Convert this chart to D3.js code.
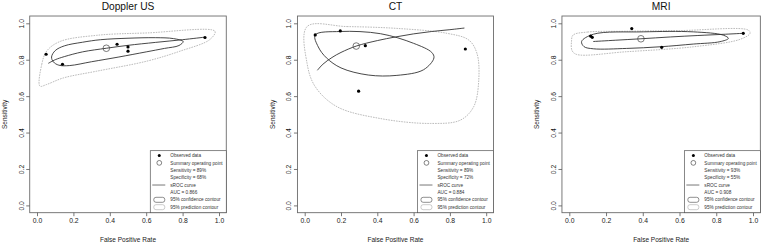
<!DOCTYPE html>
<html>
<head>
<meta charset="utf-8">
<script src="https://cdn.jsdelivr.net/npm/d3@7"></script>
<style>
  body { margin: 0; background: #fff; }
  svg { display: block; font-family: 'Liberation Sans', Arial, sans-serif; }
</style>
</head>
<body>
<div id="chart"></div>
<script>
// panel titles
const titles = ['Doppler US', 'CT', 'MRI']

// observed data points [fpr, sensitivity]
const observedDoppler = [[0.05, 0.83], [0.14, 0.775], [0.44, 0.885], [0.5, 0.87], [0.5, 0.847], [0.923, 0.922]]
const observedCT = [[0.058, 0.936], [0.196, 0.958], [0.334, 0.877], [0.885, 0.859], [0.297, 0.627]]
const observedMRI = [[0.116, 0.93], [0.125, 0.923], [0.34, 0.971], [0.503, 0.868], [0.947, 0.945]]

// summary operating points
const summaryPoints = [[0.381, 0.863], [0.284, 0.875], [0.39, 0.915]]

// sROC curves
const srocDoppler = [[0.062, 0.78], [0.1, 0.8], [0.15, 0.817], [0.25, 0.843], [0.381, 0.863], [0.5, 0.879], [0.65, 0.895], [0.8, 0.91], [0.923, 0.924]]
const srocCT = [[0.07, 0.742], [0.1, 0.775], [0.15, 0.812], [0.2, 0.84], [0.284, 0.875], [0.4, 0.905], [0.5, 0.925], [0.6, 0.942], [0.7, 0.955], [0.8, 0.965], [0.88, 0.974]]
const srocMRI = [[0.13, 0.9], [0.25, 0.907], [0.39, 0.915], [0.55, 0.925], [0.7, 0.933], [0.85, 0.94], [0.947, 0.945]]

// 95% confidence contours
const confDoppler = [[0.08, 0.815], [0.1, 0.85], [0.15, 0.876], [0.25, 0.896], [0.35, 0.91], [0.5, 0.918], [0.65, 0.921], [0.75, 0.916], [0.803, 0.9], [0.78, 0.878], [0.7, 0.862], [0.6, 0.843], [0.45, 0.815], [0.3, 0.789], [0.18, 0.768], [0.12, 0.77], [0.09, 0.788]]
const confCT = [[0.058, 0.936], [0.196, 0.955], [0.417, 0.943], [0.6, 0.89], [0.7, 0.84], [0.712, 0.81], [0.655, 0.745], [0.508, 0.714], [0.35, 0.716], [0.2, 0.755], [0.12, 0.81], [0.075, 0.87]]
const confMRI = [[0.067, 0.9], [0.131, 0.94], [0.403, 0.953], [0.675, 0.953], [0.838, 0.935], [0.866, 0.917], [0.82, 0.899], [0.675, 0.886], [0.494, 0.871], [0.312, 0.862], [0.131, 0.86], [0.08, 0.872]]

// 95% prediction contours
const predDoppler = [[0.016, 0.655], [0.026, 0.774], [0.053, 0.847], [0.126, 0.9], [0.328, 0.934], [0.603, 0.947], [0.978, 0.956], [0.95, 0.911], [0.786, 0.847], [0.603, 0.792], [0.328, 0.737], [0.145, 0.7], [0.053, 0.664]]
const predCT = [[0.013, 0.982], [0.233, 0.982], [0.508, 0.972], [0.784, 0.945], [0.904, 0.908], [0.949, 0.835], [0.959, 0.688], [0.931, 0.542], [0.857, 0.468], [0.692, 0.45], [0.417, 0.477], [0.178, 0.542], [0.058, 0.652], [0.013, 0.78]]
const predMRI = [[0.02, 0.935], [0.1, 0.952], [0.3, 0.956], [0.6, 0.96], [0.974, 0.963], [0.984, 0.945], [0.93, 0.912], [0.675, 0.871], [0.312, 0.844], [0.04, 0.829], [0.015, 0.85], [0.012, 0.9]]

// legend values
const sensitivities = ['89%', '89%', '93%']
const specificities = ['68%', '72%', '55%']
const aucs = ['0.866', '0.884', '0.908']

const ticks = [0, 0.2, 0.4, 0.6, 0.8, 1.0]

const panels = [
  { x0: 37, w: 182, observed: observedDoppler, sroc: srocDoppler, conf: confDoppler, pred: predDoppler },
  { x0: 304.7, w: 181.5, observed: observedCT, sroc: srocCT, conf: confCT, pred: predCT },
  { x0: 569.3, w: 183.7, observed: observedMRI, sroc: srocMRI, conf: confMRI, pred: predMRI }
]

const width = 762
const height = 243
const yTop = 23.3
const yBottom = 205.4

const svg = d3.select('#chart')
  .append('svg')
  .attr('width', width)
  .attr('height', height)

const ink = '#333'

panels.forEach((p, i) => {
  const x = d3.scaleLinear().domain([0, 1]).range([p.x0, p.x0 + p.w])
  const y = d3.scaleLinear().domain([0, 1]).range([yBottom, yTop])
  const padX = 0.04 * p.w
  const padY = 0.04 * (yBottom - yTop)
  const bx0 = p.x0 - padX
  const bx1 = p.x0 + p.w + padX
  const by0 = yTop - padY
  const by1 = yBottom + padY

  const g = svg.append('g')

  // box
  g.append('rect')
    .attr('x', bx0).attr('y', by0)
    .attr('width', bx1 - bx0).attr('height', by1 - by0)
    .attr('fill', 'none').attr('stroke', '#6b6b6b').attr('stroke-width', 0.9)

  // axes
  g.append('g')
    .attr('transform', `translate(0,${by1})`)
    .call(d3.axisBottom(x).tickValues(ticks).tickFormat(d3.format('.1f')).tickSize(3.5).tickPadding(2.5))
    .call(a => a.select('.domain').remove())
    .call(a => a.selectAll('line').attr('stroke', '#555').attr('stroke-width', 0.8))
    .call(a => a.selectAll('text').attr('font-size', 6.8).attr('fill', '#222').attr('font-family', null))

  const ya = g.append('g')
    .attr('transform', `translate(${bx0},0)`)
    .call(d3.axisLeft(y).tickValues(ticks).tickFormat(d3.format('.1f')).tickSize(3.5))
    .call(a => a.select('.domain').remove())
    .call(a => a.selectAll('line').attr('stroke', '#555').attr('stroke-width', 0.8))
  ya.selectAll('text')
    .attr('font-size', 6.8).attr('fill', '#222').attr('font-family', null)
    .attr('x', null).attr('dy', null)
    .attr('text-anchor', 'middle')
    .attr('transform', 'translate(-8.5,0) rotate(-90)')
    .attr('dy', '0.35em')

  // titles
  g.append('text')
    .attr('x', (bx0 + bx1) / 2).attr('y', 9.6)
    .attr('text-anchor', 'middle').attr('font-size', 10.2).attr('fill', '#111')
    .text(titles[i])

  g.append('text')
    .attr('x', (bx0 + bx1) / 2).attr('y', 241.5)
    .attr('text-anchor', 'middle').attr('font-size', 6.5).attr('fill', '#222')
    .text('False Positive Rate')

  g.append('text')
    .attr('transform', `translate(${bx0 - 22.5},${(by0 + by1) / 2}) rotate(-90)`)
    .attr('text-anchor', 'middle').attr('font-size', 6.5).attr('fill', '#222')
    .text('Sensitivity')

  const closed = d3.line().x(d => x(d[0])).y(d => y(d[1])).curve(d3.curveCatmullRomClosed.alpha(0.5))
  const open = d3.line().x(d => x(d[0])).y(d => y(d[1])).curve(d3.curveCatmullRom.alpha(0.5))

  // prediction contour
  g.append('path')
    .attr('d', closed(p.pred))
    .attr('fill', 'none').attr('stroke', '#aaa').attr('stroke-width', 0.8)
    .attr('stroke-dasharray', '1.6,1')

  // confidence contour
  g.append('path')
    .attr('d', closed(p.conf))
    .attr('fill', 'none').attr('stroke', ink).attr('stroke-width', 0.9)

  // sROC curve
  g.append('path')
    .attr('d', open(p.sroc))
    .attr('fill', 'none').attr('stroke', ink).attr('stroke-width', 0.9)

  // observed data
  g.selectAll('.obs')
    .data(p.observed)
    .join('circle')
    .attr('cx', d => x(d[0])).attr('cy', d => y(d[1]))
    .attr('r', 1.6).attr('fill', '#000')

  // summary point
  g.append('circle')
    .attr('cx', x(summaryPoints[i][0])).attr('cy', y(summaryPoints[i][1]))
    .attr('r', 3.3).attr('fill', 'none').attr('stroke', '#444').attr('stroke-width', 0.7)

  // legend
  const lw = 76
  const lh = 62
  const lx = bx1 - lw
  const ly = by1 - lh
  const lg = g.append('g').attr('transform', `translate(${lx},${ly})`)
  lg.append('rect')
    .attr('width', lw).attr('height', lh)
    .attr('fill', '#fff').attr('stroke', '#555').attr('stroke-width', 0.7)

  const rows = ['Observed data', 'Summary operating point', `Sensitivity = ${sensitivities[i]}`,
    `Specificity = ${specificities[i]}`, 'sROC curve', `AUC = ${aucs[i]}`,
    '95% confidence contour', '95% prediction contour']
  const rowY = d3.scaleLinear().domain([0, 7]).range([4.8, 56.5])

  lg.selectAll('.lt')
    .data(rows)
    .join('text')
    .attr('x', 20).attr('y', (d, k) => rowY(k))
    .attr('dy', '0.35em')
    .attr('font-size', 4.7).attr('fill', '#333')
    .text(d => d)

  lg.append('circle').attr('cx', 9).attr('cy', rowY(0)).attr('r', 1.5).attr('fill', '#000')
  lg.append('circle').attr('cx', 9).attr('cy', rowY(1)).attr('r', 2.4)
    .attr('fill', 'none').attr('stroke', '#333').attr('stroke-width', 0.6)
  lg.append('line').attr('x1', 2).attr('x2', 15).attr('y1', rowY(4)).attr('y2', rowY(4))
    .attr('stroke', '#555').attr('stroke-width', 0.8)
  lg.append('rect').attr('x', 3.5).attr('y', rowY(6) - 2.5).attr('width', 11).attr('height', 5).attr('rx', 2.2)
    .attr('fill', 'none').attr('stroke', '#444').attr('stroke-width', 0.6)
  lg.append('rect').attr('x', 3.5).attr('y', rowY(7) - 2.5).attr('width', 11).attr('height', 5).attr('rx', 2.2)
    .attr('fill', 'none').attr('stroke', '#aaa').attr('stroke-width', 0.6)
})
</script>
</body>
</html>
